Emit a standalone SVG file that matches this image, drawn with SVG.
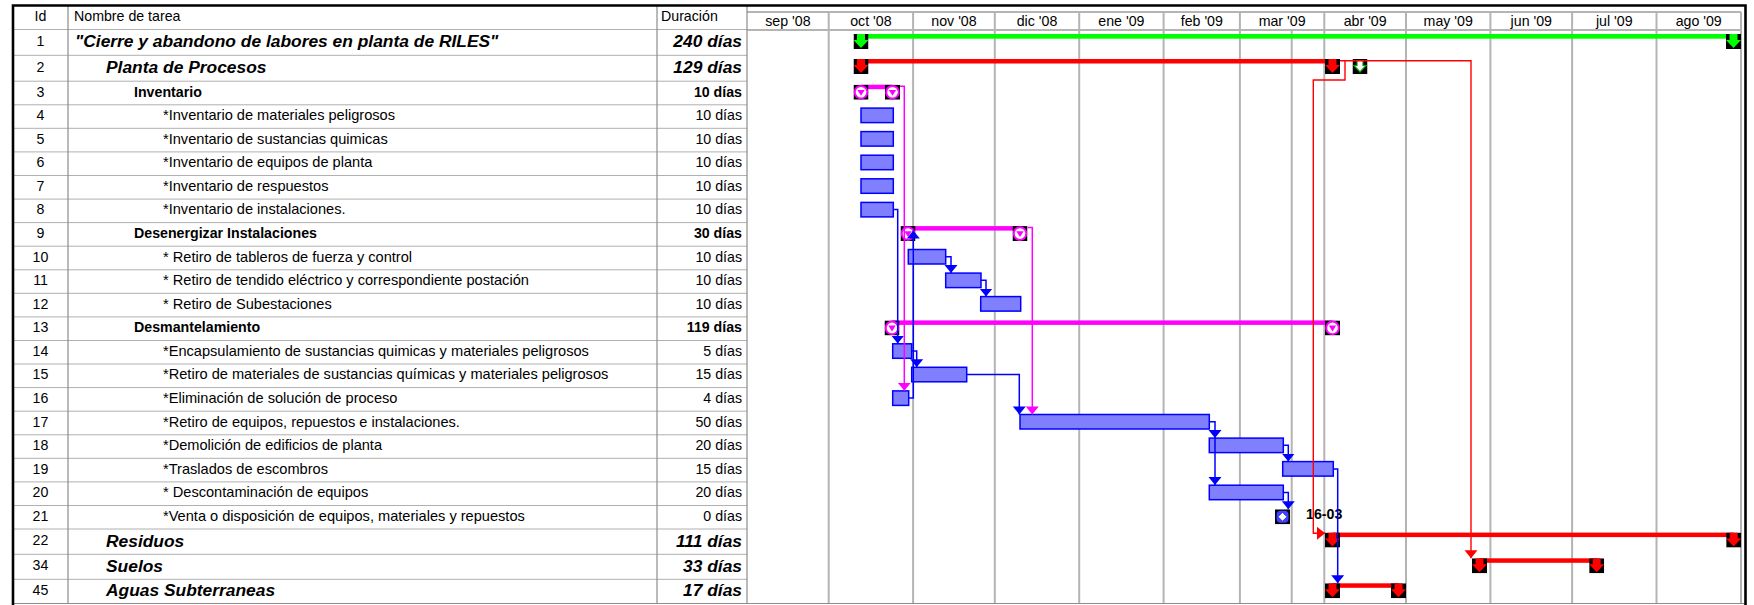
<svg xmlns="http://www.w3.org/2000/svg" width="1754" height="605" viewBox="0 0 1754 605">
<style>
text { font-family: "Liberation Sans", Arial, sans-serif; font-size: 14.2px; fill: #000; }
.t { font-size: 14.6px; }
.b { font-weight: bold; }
.big { font-weight: bold; font-style: italic; font-size: 17.4px; }
.id { text-anchor: middle; }
.dur { text-anchor: end; }
.mon { text-anchor: middle; }
.row { stroke: #b0b0b0; stroke-width: 1; }
.col { stroke: #8c8c8c; stroke-width: 1.2; }
.msep { stroke: #b4b4b4; stroke-width: 2; }
.task { fill: #8080ff; stroke: #0000ff; stroke-width: 1.5; }
.sg { fill: #00ff00; }
.sr { fill: #ff0000; }
.sm { fill: #ff00ff; }
.cb { fill: none; stroke: #0000ff; stroke-width: 1.5; marker-end: url(#aB); }
.cm { fill: none; stroke: #ff00ff; stroke-width: 1.5; marker-end: url(#aM); }
.cr { fill: none; stroke: #ff0000; stroke-width: 1.4; marker-end: url(#aR); }
</style>
<defs>
<marker id="aB" markerUnits="userSpaceOnUse" viewBox="0 0 9 14" markerWidth="9" markerHeight="14" refX="8" refY="7" orient="auto"><path d="M0,0.5 L8,7 L0,13.5 z" fill="#0000ff"/></marker>
<marker id="aM" markerUnits="userSpaceOnUse" viewBox="0 0 9 14" markerWidth="9" markerHeight="14" refX="8" refY="7" orient="auto"><path d="M0,0.5 L8,7 L0,13.5 z" fill="#ff00ff"/></marker>
<marker id="aR" markerUnits="userSpaceOnUse" viewBox="0 0 9 14" markerWidth="9" markerHeight="14" refX="8" refY="7" orient="auto"><path d="M0,0.5 L8,7 L0,13.5 z" fill="#ff0000"/></marker>
<symbol id="mG" viewBox="0 0 15 15">
<rect width="15" height="15" fill="#000"/>
<polygon points="3.5,0 11.5,0 11.5,6 15,6 7.5,14 0,6 3.5,6" fill="#00ff00"/>
</symbol>
<symbol id="mR" viewBox="0 0 15 15">
<rect width="15" height="15" fill="#000"/>
<polygon points="3.5,0 11.5,0 11.5,6 15,6 7.5,14 0,6 3.5,6" fill="#ff0000"/>
</symbol>
<symbol id="mW" viewBox="0 0 15 15">
<rect width="15" height="15" fill="#000"/>
<polygon points="4.5,1.5 10.5,1.5 10.5,6.5 13.5,6.5 7.5,13 1.5,6.5 4.5,6.5" fill="#fff" stroke="#00a000" stroke-width="1.2"/>
</symbol>
<symbol id="mM" viewBox="0 0 15 15">
<rect width="15" height="15" fill="#000"/>
<circle cx="7.5" cy="7.5" r="6.3" fill="#fff" stroke="#ff00ff" stroke-width="2"/>
<polygon points="3.8,5.2 11.2,5.2 7.5,11" fill="#ff00ff"/>
</symbol>
<symbol id="mS" viewBox="0 0 15 15">
<rect width="15" height="15" fill="#000"/>
<rect x="1.5" y="1.5" width="12" height="12" rx="4" fill="#4040ff"/>
<polygon points="7.5,3 12,7.5 7.5,12 3,7.5" fill="#fff" stroke="#3030ff" stroke-width="1"/>
</symbol>
</defs>

<rect width="1754" height="605" fill="#fff"/>

<g id="grid">
<line class="msep" x1="828.7" y1="12" x2="828.7" y2="603"/>
<line class="msep" x1="913.1" y1="12" x2="913.1" y2="603"/>
<line class="msep" x1="994.8" y1="12" x2="994.8" y2="603"/>
<line class="msep" x1="1079.2" y1="12" x2="1079.2" y2="603"/>
<line class="msep" x1="1163.6" y1="12" x2="1163.6" y2="603"/>
<line class="msep" x1="1239.9" y1="12" x2="1239.9" y2="603"/>
<line class="msep" x1="1324.3" y1="12" x2="1324.3" y2="603"/>
<line class="msep" x1="1406" y1="12" x2="1406" y2="603"/>
<line class="msep" x1="1490.4" y1="12" x2="1490.4" y2="603"/>
<line class="msep" x1="1572.1" y1="12" x2="1572.1" y2="603"/>
<line class="msep" x1="1656.5" y1="12" x2="1656.5" y2="603"/>
<line class="msep" x1="1741" y1="12" x2="1741" y2="603"/>
<line class="msep" x1="1291.7" y1="30" x2="1291.7" y2="603"/>
<line class="msep" x1="747" y1="12" x2="1741" y2="12"/>
<line class="msep" x1="747" y1="30" x2="1741" y2="30"/>
<line class="row" x1="13" y1="29.5" x2="747" y2="29.5"/>
<line class="row" x1="13" y1="55.3" x2="747" y2="55.3"/>
<line class="row" x1="13" y1="81.2" x2="747" y2="81.2"/>
<line class="row" x1="13" y1="104.8" x2="747" y2="104.8"/>
<line class="row" x1="13" y1="128.3" x2="747" y2="128.3"/>
<line class="row" x1="13" y1="151.9" x2="747" y2="151.9"/>
<line class="row" x1="13" y1="175.5" x2="747" y2="175.5"/>
<line class="row" x1="13" y1="199.1" x2="747" y2="199.1"/>
<line class="row" x1="13" y1="222.6" x2="747" y2="222.6"/>
<line class="row" x1="13" y1="246.2" x2="747" y2="246.2"/>
<line class="row" x1="13" y1="269.8" x2="747" y2="269.8"/>
<line class="row" x1="13" y1="293.3" x2="747" y2="293.3"/>
<line class="row" x1="13" y1="316.9" x2="747" y2="316.9"/>
<line class="row" x1="13" y1="340.5" x2="747" y2="340.5"/>
<line class="row" x1="13" y1="364" x2="747" y2="364"/>
<line class="row" x1="13" y1="387.6" x2="747" y2="387.6"/>
<line class="row" x1="13" y1="411.2" x2="747" y2="411.2"/>
<line class="row" x1="13" y1="434.8" x2="747" y2="434.8"/>
<line class="row" x1="13" y1="458.3" x2="747" y2="458.3"/>
<line class="row" x1="13" y1="481.9" x2="747" y2="481.9"/>
<line class="row" x1="13" y1="505.5" x2="747" y2="505.5"/>
<line class="row" x1="13" y1="529" x2="747" y2="529"/>
<line class="row" x1="13" y1="554.3" x2="747" y2="554.3"/>
<line class="row" x1="13" y1="579.3" x2="747" y2="579.3"/>
<line class="col" x1="68" y1="6" x2="68" y2="603.5"/>
<line class="col" x1="657" y1="6" x2="657" y2="603.5"/>
<line class="col" x1="747" y1="6" x2="747" y2="603.5"/>
<line class="col" x1="13" y1="603.5" x2="1745" y2="603.5"/>
<path d="M13,605 V5.5 H1745.5 V605" fill="none" stroke="#000" stroke-width="2.6"/>
</g>

<g id="header">
<text class="id" x="40.5" y="21">Id</text>
<text x="74" y="21">Nombre de tarea</text>
<text x="661" y="21">Duración</text>
<text class="mon" x="787.9" y="25.5">sep '08</text>
<text class="mon" x="870.9" y="25.5">oct '08</text>
<text class="mon" x="954" y="25.5">nov '08</text>
<text class="mon" x="1037" y="25.5">dic '08</text>
<text class="mon" x="1121.4" y="25.5">ene '09</text>
<text class="mon" x="1201.8" y="25.5">feb '09</text>
<text class="mon" x="1282.1" y="25.5">mar '09</text>
<text class="mon" x="1365.2" y="25.5">abr '09</text>
<text class="mon" x="1448.2" y="25.5">may '09</text>
<text class="mon" x="1531.3" y="25.5">jun '09</text>
<text class="mon" x="1614.3" y="25.5">jul '09</text>
<text class="mon" x="1698.7" y="25.5">ago '09</text>
</g>

<g id="task-1">
<text class="id" x="40.5" y="46">1</text>
<text class="big" x="75" y="47.2">"Cierre y abandono de labores en planta de RILES"</text>
<text class="big dur" x="742" y="47.2">240 días</text>
<rect class="sg" x="861" y="34" width="873" height="4.7"/>
<use href="#mG" x="853.5" y="34" width="15" height="15"/>
<use href="#mG" x="1726" y="34" width="15" height="15"/>
</g>
<g id="task-2">
<text class="id" x="40.5" y="71.8">2</text>
<text class="big" x="106" y="73">Planta de Procesos</text>
<text class="big dur" x="742" y="73">129 días</text>
<rect class="sr" x="861" y="59" width="471.5" height="4.5"/>
<use href="#mR" x="853.5" y="59" width="15" height="15"/>
<use href="#mR" x="1325" y="59" width="15" height="15"/>
<use href="#mW" x="1352.5" y="59" width="15" height="15"/>
</g>
<g id="task-3">
<text class="id" x="40.5" y="96.5">3</text>
<text class="b" x="134" y="96.5">Inventario</text>
<text class="b dur" x="742" y="96.5">10 días</text>
<rect class="sm" x="861" y="84.7" width="32" height="4.5"/>
<use href="#mM" x="853.5" y="84.7" width="15" height="15"/>
<use href="#mM" x="885" y="84.7" width="15" height="15"/>
</g>
<g id="task-4">
<text class="id" x="40.5" y="120">4</text>
<text class="t" x="163" y="120">*Inventario de materiales peligrosos</text>
<text class="dur" x="742" y="120">10 días</text>
<rect class="task" x="861" y="108.1" width="32.3" height="14.5"/>
</g>
<g id="task-5">
<text class="id" x="40.5" y="143.6">5</text>
<text class="t" x="163" y="143.6">*Inventario de sustancias quimicas</text>
<text class="dur" x="742" y="143.6">10 días</text>
<rect class="task" x="861" y="131.6" width="32.3" height="14.5"/>
</g>
<g id="task-6">
<text class="id" x="40.5" y="167.2">6</text>
<text class="t" x="163" y="167.2">*Inventario de equipos de planta</text>
<text class="dur" x="742" y="167.2">10 días</text>
<rect class="task" x="861" y="155.2" width="32.3" height="14.5"/>
</g>
<g id="task-7">
<text class="id" x="40.5" y="190.8">7</text>
<text class="t" x="163" y="190.8">*Inventario de respuestos</text>
<text class="dur" x="742" y="190.8">10 días</text>
<rect class="task" x="861" y="178.8" width="32.3" height="14.5"/>
</g>
<g id="task-8">
<text class="id" x="40.5" y="214.3">8</text>
<text class="t" x="163" y="214.3">*Inventario de instalaciones.</text>
<text class="dur" x="742" y="214.3">10 días</text>
<rect class="task" x="861" y="202.4" width="32.3" height="14.5"/>
</g>
<g id="task-9">
<text class="id" x="40.5" y="237.9">9</text>
<text class="b" x="134" y="237.9">Desenergizar Instalaciones</text>
<text class="b dur" x="742" y="237.9">30 días</text>
<rect class="sm" x="908" y="226.1" width="112" height="4.5"/>
<use href="#mM" x="900.5" y="226.1" width="15" height="15"/>
<use href="#mM" x="1012.5" y="226.1" width="15" height="15"/>
</g>
<g id="task-10">
<text class="id" x="40.5" y="261.5">10</text>
<text class="t" x="163" y="261.5">* Retiro de tableros de fuerza y control</text>
<text class="dur" x="742" y="261.5">10 días</text>
<rect class="task" x="908.3" y="249.5" width="37.4" height="14.5"/>
</g>
<g id="task-11">
<text class="id" x="40.5" y="285">11</text>
<text class="t" x="163" y="285">* Retiro de tendido eléctrico y correspondiente postación</text>
<text class="dur" x="742" y="285">10 días</text>
<rect class="task" x="945.7" y="273.1" width="35.3" height="14.5"/>
</g>
<g id="task-12">
<text class="id" x="40.5" y="308.6">12</text>
<text class="t" x="163" y="308.6">* Retiro de Subestaciones</text>
<text class="dur" x="742" y="308.6">10 días</text>
<rect class="task" x="980.7" y="296.6" width="40" height="14.5"/>
</g>
<g id="task-13">
<text class="id" x="40.5" y="332.2">13</text>
<text class="b" x="134" y="332.2">Desmantelamiento</text>
<text class="b dur" x="742" y="332.2">119 días</text>
<rect class="sm" x="892" y="320.4" width="440.5" height="4.5"/>
<use href="#mM" x="884.5" y="320.4" width="15" height="15"/>
<use href="#mM" x="1325" y="320.4" width="15" height="15"/>
</g>
<g id="task-14">
<text class="id" x="40.5" y="355.8">14</text>
<text class="t" x="163" y="355.8">*Encapsulamiento de sustancias quimicas y materiales peligrosos</text>
<text class="dur" x="742" y="355.8">5 días</text>
<rect class="task" x="892.7" y="343.8" width="19" height="14.5"/>
</g>
<g id="task-15">
<text class="id" x="40.5" y="379.3">15</text>
<text class="t" x="163" y="379.3">*Retiro de materiales de sustancias químicas y materiales peligrosos</text>
<text class="dur" x="742" y="379.3">15 días</text>
<rect class="task" x="911.7" y="367.3" width="55" height="14.5"/>
</g>
<g id="task-16">
<text class="id" x="40.5" y="402.9">16</text>
<text class="t" x="163" y="402.9">*Eliminación de solución de proceso</text>
<text class="dur" x="742" y="402.9">4 días</text>
<rect class="task" x="892.7" y="390.9" width="16" height="14.5"/>
</g>
<g id="task-17">
<text class="id" x="40.5" y="426.5">17</text>
<text class="t" x="163" y="426.5">*Retiro de equipos, repuestos e instalaciones.</text>
<text class="dur" x="742" y="426.5">50 días</text>
<rect class="task" x="1020" y="414.5" width="189.3" height="14.5"/>
</g>
<g id="task-18">
<text class="id" x="40.5" y="450">18</text>
<text class="t" x="163" y="450">*Demolición de edificios de planta</text>
<text class="dur" x="742" y="450">20 días</text>
<rect class="task" x="1209.3" y="438.1" width="74" height="14.5"/>
</g>
<g id="task-19">
<text class="id" x="40.5" y="473.6">19</text>
<text class="t" x="163" y="473.6">*Traslados de escombros</text>
<text class="dur" x="742" y="473.6">15 días</text>
<rect class="task" x="1282.7" y="461.6" width="50.6" height="14.5"/>
</g>
<g id="task-20">
<text class="id" x="40.5" y="497.2">20</text>
<text class="t" x="163" y="497.2">* Descontaminación de equipos</text>
<text class="dur" x="742" y="497.2">20 días</text>
<rect class="task" x="1209.3" y="485.2" width="74" height="14.5"/>
</g>
<g id="task-21">
<text class="id" x="40.5" y="520.7">21</text>
<text class="t" x="163" y="520.7">*Venta o disposición de equipos, materiales y repuestos</text>
<text class="dur" x="742" y="520.7">0 días</text>
<use href="#mS" x="1275" y="509.3" width="15" height="15"/>
<text class="b" x="1306" y="519">16-03</text>
</g>
<g id="task-22">
<text class="id" x="40.5" y="545.2">22</text>
<text class="big" x="106" y="546.5">Residuos</text>
<text class="big dur" x="742" y="546.5">111 días</text>
<rect class="sr" x="1332.5" y="532.6" width="401.2" height="4.5"/>
<use href="#mR" x="1325" y="532.6" width="15" height="15"/>
<use href="#mR" x="1726.2" y="532.6" width="15" height="15"/>
</g>
<g id="task-34">
<text class="id" x="40.5" y="570.3">34</text>
<text class="big" x="106" y="571.6">Suelos</text>
<text class="big dur" x="742" y="571.6">33 días</text>
<rect class="sr" x="1479.5" y="558.3" width="117.2" height="4.5"/>
<use href="#mR" x="1472" y="558.3" width="15" height="15"/>
<use href="#mR" x="1589.2" y="558.3" width="15" height="15"/>
</g>
<g id="task-45">
<text class="id" x="40.5" y="594.9">45</text>
<text class="big" x="106" y="596.2">Aguas Subterraneas</text>
<text class="big dur" x="742" y="596.2">17 días</text>
<rect class="sr" x="1332.5" y="583.3" width="66" height="4.5"/>
<use href="#mR" x="1325" y="583.3" width="15" height="15"/>
<use href="#mR" x="1391" y="583.3" width="15" height="15"/>
</g>

<g id="connectors">
<path class="cb" d="M893.3,209.6 H897.7 V343.5"/>
<path class="cb" d="M908.7,398.1 H913.3 V230.6"/>
<path class="cb" d="M945.7,256.7 H951 V273"/>
<path class="cb" d="M981,280.3 H986 V296.5"/>
<path class="cb" d="M911.7,351 H916.7 V367.2"/>
<path class="cb" d="M966.7,374.6 H1019.3 V414.4"/>
<path class="cb" d="M1209.3,421.7 H1215 V438"/>
<path class="cb" d="M1215,438 V485.1"/>
<path class="cb" d="M1283.3,445.3 H1288.3 V461.5"/>
<path class="cb" d="M1283.3,492.4 H1288.3 V509.2"/>
<path class="cb" d="M1333.3,468.9 H1337.7 V583.2"/>
<path class="cm" d="M900,86.2 H904.3 V390.8"/>
<path class="cm" d="M1027.5,227.5 H1032.3 V414.4"/>
<path class="cr" d="M1340,60.7 H1471 V558.2"/>
<path class="cr" d="M1345,60.7 V80 H1313.3 V533.3 H1325"/>
</g>
</svg>
